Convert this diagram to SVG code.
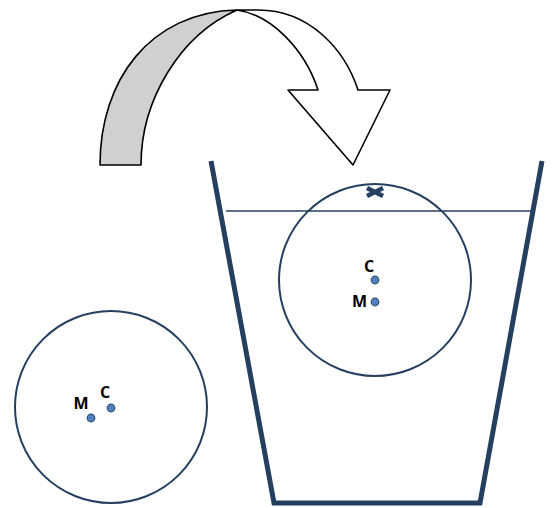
<svg xmlns="http://www.w3.org/2000/svg" width="555" height="508" viewBox="0 0 555 508">
<style>
.ring{fill:none;stroke:#243f60;stroke-width:2}
.dot{fill:#4f81bd;stroke:#2c4d75;stroke-width:1.2}
.lbl{font-family:"Open Sans","Liberation Sans",Arial,sans-serif;font-weight:bold;font-size:16px;fill:#000}
.arr{stroke:#000;stroke-width:1.6;stroke-linejoin:round}
</style>
<rect width="555" height="508" fill="#fff"/>
<g id="connectors">
  <path class="arr" fill="#d0d0d0" d="M100,165 C100,80 150,12 237,10 C180,35 141,100 141,165 Z"/>
  <path class="arr" fill="#fff" d="M237,10 L258,10 C310,10 345,50 358,90 L390,90 L353,165 L288,90 L318,90 C305,50 272,15 237,10 Z"/>
</g>
<g id="bucket">
  <polyline points="211,161 274,503 480,503 542,161" fill="none" stroke="#243f60" stroke-width="5" stroke-linejoin="miter"/>
  <line x1="226" y1="211" x2="531" y2="211" stroke="#243f60" stroke-width="1.5"/>
</g>
<g id="ball-floating">
  <circle class="ring" cx="375" cy="280" r="96"/>
  <path d="M367,188 L383,196 M367,196 L383,188" stroke="#243f60" stroke-width="4.5" stroke-linecap="butt"/>
  <circle class="dot" cx="375" cy="280" r="3.8"/>
  <circle class="dot" cx="375" cy="302" r="3.8"/>
  <text class="lbl" x="369" y="272" text-anchor="middle">C</text>
  <text class="lbl" x="367" y="307" text-anchor="end">M</text>
</g>
<g id="ball-free">
  <circle class="ring" cx="111" cy="407" r="96"/>
  <circle class="dot" cx="111" cy="408" r="3.8"/>
  <circle class="dot" cx="91" cy="418" r="3.8"/>
  <text class="lbl" x="105" y="398" text-anchor="middle">C</text>
  <text class="lbl" x="81" y="409" text-anchor="middle">M</text>
</g>
</svg>
